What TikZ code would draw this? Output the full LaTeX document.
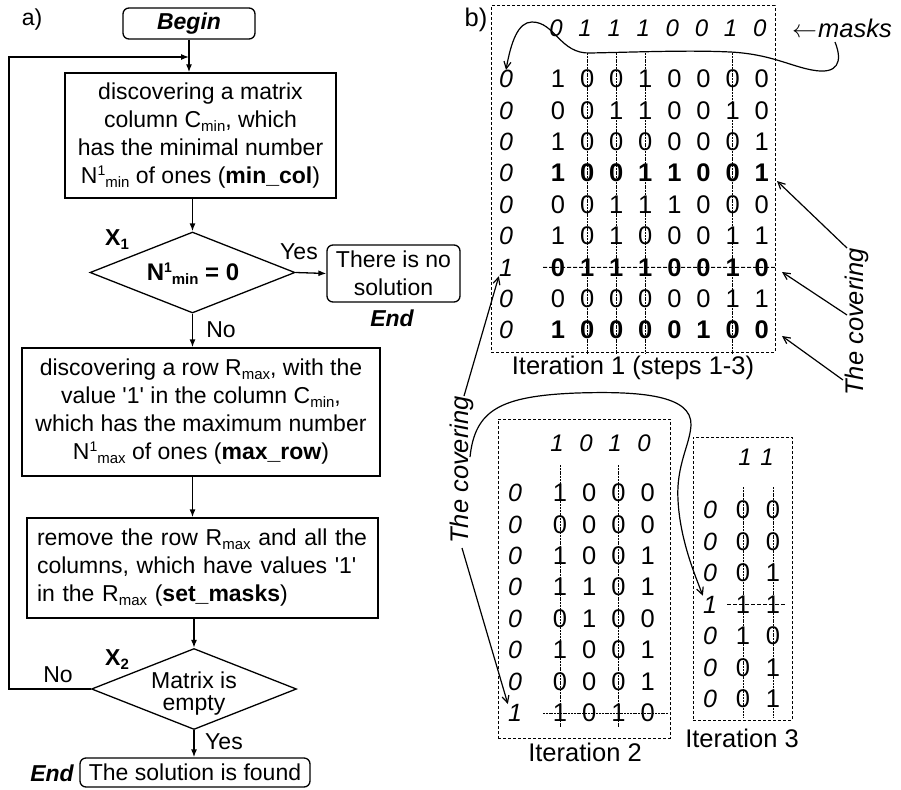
\documentclass[tikz,border=0pt]{standalone}
\usepackage{fontspec}
\setmainfont{Liberation Sans}
\usetikzlibrary{shapes.geometric,arrows.meta}
\newcommand\lo[1]{\raisebox{-4pt}{\fontsize{15}{15}\selectfont #1}}
\newcommand\hi[1]{\raisebox{8pt}{\fontsize{14}{14}\selectfont #1}}
\newcommand\qs{\textquotesingle}
\newcommand\isbold[1]{\ifnum#1=4 \bfseries\fi\ifnum#1=7 \bfseries\fi\ifnum#1=9 \bfseries\fi}
\begin{document}
\begin{tikzpicture}[x=1pt,y=-1pt,
 every node/.style={inner sep=0pt},
 fbox/.style={draw, line width=1.3pt, font=\fontsize{23}{28}\selectfont},
 rbox/.style={fbox, rounded corners=6pt},
 dia/.style={draw, line width=1.3pt, diamond, minimum width=205pt, minimum height=81pt},
 arr/.style={line width=1.3pt, -{Latex[length=8pt,width=6pt]}},
 lbl/.style={font=\fontsize{23}{28}\selectfont},
 rlbl/.style={font=\fontsize{25.5}{28}\selectfont},
 dig/.style={font=\fontsize{25.5}{25}\selectfont},
 mk/.style={font=\fontsize{24}{23}\selectfont\itshape},
 lc/.style={font=\fontsize{25}{24}\selectfont\itshape},
 dbox/.style={draw, line width=1pt, dash pattern=on 3pt off 2pt},
 vl/.style={line width=0.9pt, dash pattern=on 2pt off 0.8pt},
 hl/.style={line width=0.9pt, dash pattern=on 4pt off 2pt},
 carr/.style={line width=1.2pt, -{Straight Barb[length=7pt,width=7pt]}}
]
\useasboundingbox (0,0) rectangle (901,789);

% ---------------- a) flowchart ----------------
\node[lbl] (alab) at (32,20) {a)};
\node[rbox, minimum width=132pt, minimum height=31pt] (begin) at (189,23.5) {\textbf{\textit{Begin}}};
\node[fbox, minimum width=271pt, minimum height=125pt, align=center] (box1) at (200.5,135.5)
 {discovering a matrix\\column C\lo{min}, which\\has the minimal number\\N\hi{1}\lo{min} of ones (\textbf{min\_col})};
\node[dia] (d1) at (192.5,272.5) {};
\node[font=\fontsize{24}{24}\selectfont\bfseries] (d1t) at (193,274) {N\hi{1}\lo{min} = 0};
\node[font=\fontsize{23}{23}\selectfont\bfseries] (x1) at (117,240) {X\lo{1}};
\node[lbl] (yes1) at (299,252) {Yes};
\node[rbox, minimum width=133pt, minimum height=57pt, align=center] (nosol) at (393.5,273.5) {There is no\\solution};
\node[font=\fontsize{23}{23}\selectfont\bfseries\itshape] (end1) at (392,318) {End};
\node[lbl] (no1) at (221,330) {No};
\node[fbox, minimum width=358pt, minimum height=128pt, align=center] (box2) at (201,412)
 {discovering a row R\lo{max}, with the\\value \qs1\qs\ in the column C\lo{min},\\which has the maximum number\\N\hi{1}\lo{max} of ones (\textbf{max\_row})};
\node[fbox, minimum width=351pt, minimum height=100pt, text width=343pt, inner xsep=4pt, align=left] (box3) at (202.5,568)
 {\hspace*{6pt}remove the row R\lo{max} and all the\\\hspace*{6pt}columns, which have values \qs1\qs\\\hspace*{6pt}in the R\lo{max} (\textbf{set\_masks})};
\node[dia] (d2) at (194,689) {};
\node[font=\fontsize{23}{22}\selectfont, align=center] (d2t) at (194,694) {Matrix is\\empty};
\node[font=\fontsize{23}{23}\selectfont\bfseries] (x2) at (117,660) {X\lo{2}};
\node[lbl] (no2) at (58,675) {No};
\node[lbl] (yes2) at (224,742) {Yes};
\node[rbox, minimum width=230pt, minimum height=29pt] (endbox) at (195,772.5) {The solution is found};
\node[font=\fontsize{23}{23}\selectfont\bfseries\itshape] (end2) at (52,773) {End};

\draw[arr] (begin.south) -- (begin.south |- box1.north);
\draw[arr] (box1.south -| d1.north) -- (d1.north);
\draw[arr] (d1.east) -- (nosol.west);
\draw[arr] (d1.south) -- (d1.south |- box2.north);
\draw[arr] (d1.south |- box2.south) -- (d1.south |- box3.north);
\draw[arr] (box3.south -| d2.north) -- (d2.north);
\draw[arr] (d2.south) -- (d2.south |- endbox.north);
\coordinate (lc) at (9,57);
\draw[arr] (d2.west) -| (lc) -- (lc -| begin.south);

% ---------------- b) matrices ----------------
\node[rlbl] (blab) at (476,20) {b)};
\node[dbox, minimum width=284pt, minimum height=346pt] (it1) at (633,179) {};
\node[dbox, minimum width=172pt, minimum height=319pt] (it2) at (584,578.5) {};
\node[dbox, minimum width=99pt, minimum height=283pt] (it3) at (742.5,578.5) {};
\node[rlbl] (it1l) at (633,368) {Iteration 1 (steps 1-3)};
\node[rlbl] (it2l) at (585,752) {Iteration 2};
\node[rlbl] (it3l) at (742,738) {Iteration 3};

% iteration 1
\foreach \v [count=\c] in {0,1,1,1,0,0,1,0}
  \node[mk] (am-\c) at ({556+29.1*(\c-1)},28) {\v};
\foreach \v [count=\r] in {0,0,0,0,0,0,1,0,0}
  \node[lc] (al-\r) at (506,{79+31.4*(\r-1)}) {\v};
\foreach \row [count=\r] in {{1,0,0,1,0,0,0,0},{0,0,1,1,0,0,1,0},{1,0,0,0,0,0,0,1},{1,0,0,1,1,0,0,1},{0,0,1,1,1,0,0,0},{1,0,1,0,0,0,1,1},{0,1,1,1,0,0,1,0},{0,0,0,0,0,0,1,1},{1,0,0,0,0,1,0,0}}
  \foreach \v [count=\c] in \row
    \node[dig] (a-\r-\c) at ({558+29.1*(\c-1)},{79+31.4*(\r-1)}) {\isbold{\r}\v};
\foreach \c in {2,3,4,7}
  \draw[vl] ({558+29.1*(\c-1)},53) -- ({558+29.1*(\c-1)},353);
\draw[hl] (543,267.4) -- (it1.east |- a-7-1);

% iteration 2
\foreach \v [count=\c] in {1,0,1,0}
  \node[mk] (bm-\c) at ({557+29*(\c-1)},443) {\v};
\foreach \v [count=\r] in {0,0,0,0,0,0,0,1}
  \node[lc] (bl-\r) at (515,{493+31.4*(\r-1)}) {\v};
\foreach \row [count=\r] in {{1,0,0,0},{0,0,0,0},{1,0,0,1},{1,1,0,1},{0,1,0,0},{1,0,0,1},{0,0,0,1},{1,0,1,0}}
  \foreach \v [count=\c] in \row
    \node[dig] (b-\r-\c) at ({560+29.2*(\c-1)},{493+31.4*(\r-1)}) {\v};
\foreach \c in {1,3}
  \draw[vl] ({560+29.2*(\c-1)},465) -- ({560+29.2*(\c-1)},728);
\draw[vl] (543,713) -- (668,713);

% iteration 3
\foreach \v [count=\c] in {1,1}
  \node[mk] (cm-\c) at ({745+22*(\c-1)},457) {\v};
\foreach \v [count=\r] in {0,0,0,1,0,0,0}
  \node[lc] (cl-\r) at (710,{510+31.5*(\r-1)}) {\v};
\foreach \row [count=\r] in {{0,0},{0,0},{0,1},{1,1},{1,0},{0,1},{0,1}}
  \foreach \v [count=\c] in \row
    \node[dig] (c-\r-\c) at ({743+30*(\c-1)},{510+31.5*(\r-1)}) {\v};
\foreach \c in {1,2}
  \draw[vl] ({743+30*(\c-1)},487) -- ({743+30*(\c-1)},718);
\draw[hl] (727,604.5) -- (785,604.5);

% masks label and curve
\node[rlbl, anchor=west] (masks) at (792,28) {$\leftarrow$\kern1pt\textit{masks}};
\coordinate (mstart) at (835,42);
\draw[carr] (mstart) .. controls (843,62) and (838,75) .. (812,70)
  .. controls (790,66) and (770,54) .. (730,52)
  .. controls (690,50) and (640,52) .. (590,53)
  .. controls (560,54) and (555,22) .. (532,22)
  .. controls (518,22) and (511,42) .. (al-1.north);

% the covering (right)
\node[rlbl, rotate=90] (covR) at (857,322) {\textit{The covering}};
\coordinate (cr1) at (847,248);
\coordinate (cr2) at (847,315);
\coordinate (cr3) at (843,380);
\draw[carr] (cr1) -- (777,181);
\draw[carr] (cr2) -- (782,272);
\draw[carr] (cr3) -- (782,336);

% the covering (left)
\node[rlbl, rotate=90] (covL) at (462,470) {\textit{The covering}};
\coordinate (cl1) at (464,396);
\coordinate (cl2) at (462,548);
\draw[carr] (cl1) -- (al-7.south west);
\draw[carr] (cl2) -- (bl-8.north west);
\coordinate (cls) at (470,457);
\draw[carr] (cls) .. controls (475,410) and (500,396) .. (577,393)
  .. controls (640,391) and (692,395) .. (691,425)
  .. controls (690,445) and (676,465) .. (678,500)
  .. controls (680,540) and (695,575) .. (cl-4.north west);
\end{tikzpicture}
\end{document}
